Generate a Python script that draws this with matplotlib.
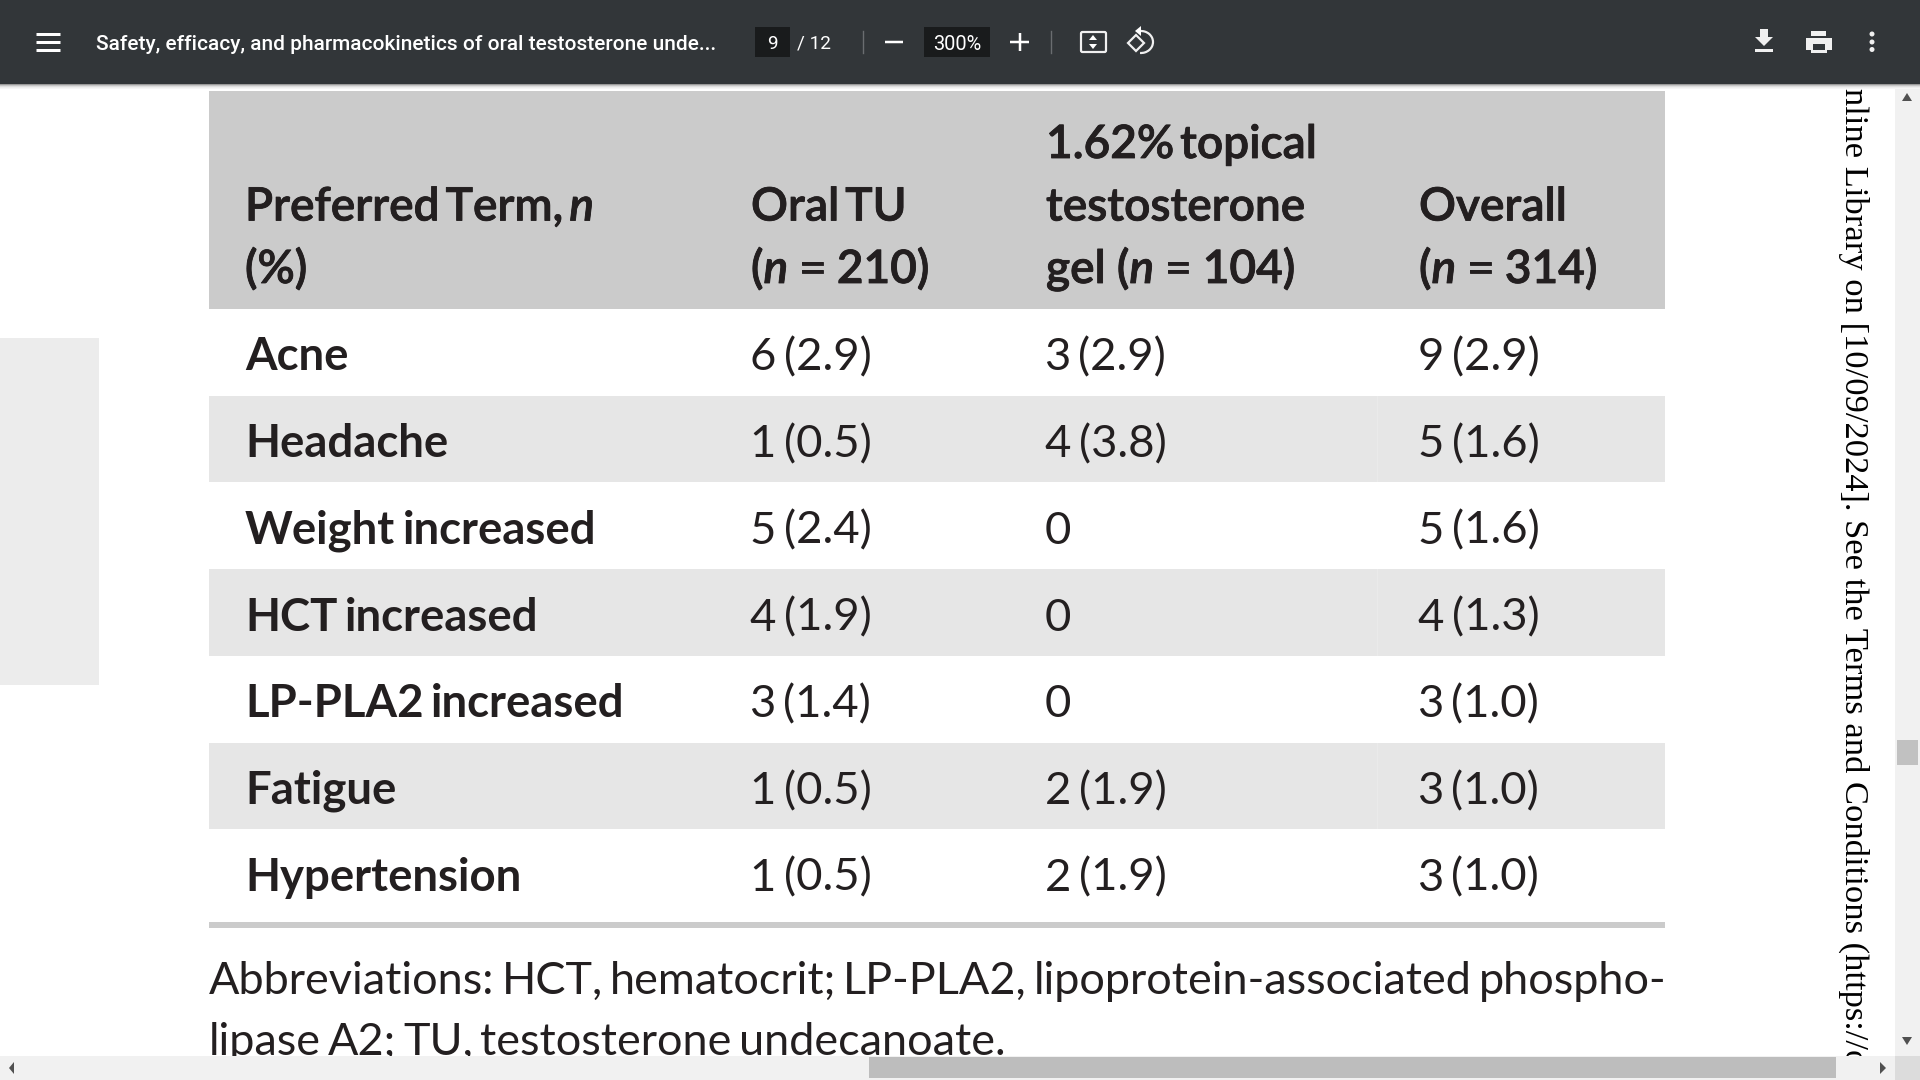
import matplotlib
matplotlib.use("Agg")
import matplotlib.pyplot as plt
import matplotlib.patheffects as pe
from matplotlib.patches import Arc, Circle, FancyBboxPatch, Polygon, Rectangle

# table content
terms = ["Acne", "Headache", "Weight increased", "HCT increased",
         "LP-PLA2 increased", "Fatigue", "Hypertension"]
oral_tu = ["6 (2.9)", "1 (0.5)", "5 (2.4)", "4 (1.9)", "3 (1.4)", "1 (0.5)", "1 (0.5)"]
topical = ["3 (2.9)", "4 (3.8)", "0", "0", "0", "2 (1.9)", "2 (1.9)"]
overall = ["9 (2.9)", "5 (1.6)", "5 (1.6)", "4 (1.3)", "3 (1.0)", "3 (1.0)", "3 (1.0)"]

# header lines, each piece is (text, italic)
head_term = [[("Preferred Term, ", False), ("n", True)], [("(%)", False)]]
head_oral = [[("Oral TU", False)], [("(", False), ("n", True), (" = 210)", False)]]
head_top = [[("1.62% topical", False)], [("testosterone", False)],
            [("gel (", False), ("n", True), (" = 104)", False)]]
head_all = [[("Overall", False)], [("(", False), ("n", True), (" = 314)", False)]]

foot_1 = "Abbreviations: HCT, hematocrit; LP-PLA2, lipoprotein-associated phospho-"
foot_2 = "lipase A2; TU, testosterone undecanoate."
doc_title = "Safety, efficacy, and pharmacokinetics of oral testosterone unde..."
side_text = "Online Library on [10/09/2024]. See the Terms and Conditions (https://on"

# layout in pixels
TAB_L, TAB_R = 209, 1665
COLS = [245, 751, 1046, 1419]
HEAD_TOP, HEAD_BOT = 91, 309
ROW_H = 86.7
INK = "#231f20"
BAR = "#323639"
PT = 0.72  # px to pt at dpi 100

fig = plt.figure(figsize=(19.2, 10.8), dpi=100)
ax = fig.add_axes([0, 0, 1, 1])
ax.set_xlim(0, 1920)
ax.set_ylim(1080, 0)
ax.axis("off")
rend = fig.canvas.get_renderer()


def rect(x0, y0, x1, y1, color, z=1):
    ax.add_patch(Rectangle((x0, y0), x1 - x0, y1 - y0, fc=color, ec="none", zorder=z))


def runs(x, y, pieces, size, weight="normal", gap=0.16, thick=0):
    # draws word by word, the reference sets its spaces narrower than Lato does
    for s, ital in pieces:
        words = s.split(" ")
        for n, word in enumerate(words):
            if n > 0:
                x += gap * size
            if not word:
                continue
            t = ax.text(x, y, word, fontsize=size * PT, family="Lato", weight=weight,
                        style="italic" if ital else "normal", color=INK, va="baseline", zorder=3)
            if thick:
                t.set_path_effects([pe.withStroke(linewidth=thick, foreground=INK)])
            x += t.get_window_extent(rend).width


# page background bits
rect(0, 338, 99, 685, "#ececec")
rect(TAB_L, HEAD_TOP, TAB_R, HEAD_BOT, "#cbcbcb")
for i in range(len(terms)):
    if i % 2 == 1:
        rect(TAB_L, HEAD_BOT + i * ROW_H, TAB_R, HEAD_BOT + (i + 1) * ROW_H, "#e6e6e6")
        rect(1377, HEAD_BOT + i * ROW_H, 1378, HEAD_BOT + (i + 1) * ROW_H, "#eaeaea", 2)
rect(TAB_L, 922, TAB_R, 928, "#cbcbcb")

# header, the lines with an equals sign keep wider spaces
for col, lines in zip(COLS, [head_term, head_oral, head_top, head_all]):
    base = 283 - 62.5 * (len(lines) - 1)
    for k, line in enumerate(lines):
        g = 0.24 if any("=" in p[0] for p in line) else 0.13
        runs(col, base + 62.5 * k, line, 46, "semibold", gap=g, thick=0.6)

# body rows
for i in range(len(terms)):
    y = HEAD_BOT + i * ROW_H + 61.5
    runs(COLS[0], y, [(terms[i], False)], 45.5, "bold", gap=0.17)
    for col, vals in zip(COLS[1:], [oral_tu, topical, overall]):
        runs(col - 1.5, y, [(vals[i], False)], 45.5, gap=0.17)

# footnote, second line runs under the scrollbar
runs(TAB_L, 994, [(foot_1, False)], 45, gap=0.155)
runs(TAB_L, 1055, [(foot_2, False)], 45, gap=0.155)

# rotated watermark on the page edge
ax.text(1854, 63, side_text, fontsize=34.45 * PT, family="Liberation Serif", color="black",
        rotation=-90, ha="center", va="top", zorder=3)

# scrollbars
rect(1895, 84, 1920, 1080, "#f1f1f1", 6)
rect(1897, 740, 1918, 765, "#c1c1c1", 7)
rect(0, 1056, 1920, 1080, "#f1f1f1", 6)
rect(869, 1057, 1836, 1078, "#bdbdbd", 7)
rect(1895, 1056, 1920, 1080, "#dcdcdc", 7)
grey = "#505050"
ax.add_patch(Polygon([[1907, 93], [1902, 101], [1912, 101]], fc=grey, ec="none", zorder=8))
ax.add_patch(Polygon([[1902, 1037], [1912, 1037], [1907, 1045]], fc=grey, ec="none", zorder=8))
ax.add_patch(Polygon([[9, 1068], [14, 1062], [14, 1074]], fc=grey, ec="none", zorder=8))
ax.add_patch(Polygon([[1880, 1062], [1886, 1068], [1880, 1074]], fc=grey, ec="none", zorder=8))

# toolbar with its shadow
for k, c in enumerate(["#9a9a9a", "#c4c4c4", "#dedede", "#eeeeee", "#f6f6f6"]):
    rect(0, 84 + k, 1920, 85 + k, c, 9)
rect(0, 0, 1920, 84, BAR, 10)


def tb_text(x, y, s, size, ha="left", weight="medium"):
    ax.text(x, y, s, fontsize=size * PT, family="Roboto", color="white", weight=weight,
            ha=ha, va="center", zorder=12)


def tb_line(xs, ys, lw=2.2):
    ax.plot(xs, ys, color="white", lw=lw * PT, solid_capstyle="butt", zorder=12)


for y in [34, 42, 50]:
    tb_line([36, 60], [y, y], 3)
tb_text(96, 45, doc_title, 20.9)

rect(755, 27, 790, 57, "#191b1c", 11)
tb_text(772, 44, "9", 19, ha="center", weight="normal")
tb_text(797, 44, "/ 12", 19, weight="normal")
ax.plot([863, 863], [31, 53], color="#6a6d70", lw=1, zorder=11)
tb_line([885, 903], [42, 42], 2.5)
rect(924, 27, 990, 57, "#191b1c", 11)
tb_text(957, 44, "300%", 20, ha="center", weight="normal")
tb_line([1010, 1029], [42, 42], 2.5)
tb_line([1019.5, 1019.5], [33, 51], 2.5)
ax.plot([1051, 1051], [31, 53], color="#6a6d70", lw=1, zorder=11)

# fit to page
ax.add_patch(FancyBboxPatch((1081, 32), 25, 20, boxstyle="round,pad=0,rounding_size=1.5",
                            fc="none", ec="#f0f0f0", lw=2.2 * PT, zorder=12))
ax.add_patch(Polygon([[1093, 35], [1089, 40], [1097, 40]], fc="white", ec="none", zorder=12))
ax.add_patch(Polygon([[1093, 49], [1089, 44], [1097, 44]], fc="white", ec="none", zorder=12))

# rotate
ax.add_patch(Polygon([[1128, 43], [1136, 35], [1144, 43], [1136, 51]], fc="none", ec="#f0f0f0",
                     lw=2.2 * PT, zorder=12))
ax.add_patch(Arc((1141, 42), 24, 22, theta1=-95, theta2=95, color="#f0f0f0", lw=2.2 * PT, zorder=12))
ax.add_patch(Polygon([[1141, 26], [1141, 36], [1135, 31]], fc="white", ec="none", zorder=12))

# download
ax.add_patch(Polygon([[1760, 29], [1768, 29], [1768, 37], [1773, 37], [1764, 46], [1755, 37], [1760, 37]],
                     fc="#f0f0f0", ec="none", zorder=12))
rect(1755, 49, 1773, 52, "#f0f0f0", 12)

# print
rect(1806, 38, 1832, 50, "#f0f0f0", 12)
rect(1811, 31, 1826, 36, "#f0f0f0", 12)
rect(1811, 44, 1827, 53, "#f0f0f0", 13)
rect(1813, 44, 1825, 50, BAR, 14)

# more menu
for y in [34, 42, 49.5]:
    ax.add_patch(Circle((1872, y), 2.5, fc="#f0f0f0", ec="none", zorder=12))

fig.savefig("out.png", dpi=100)
